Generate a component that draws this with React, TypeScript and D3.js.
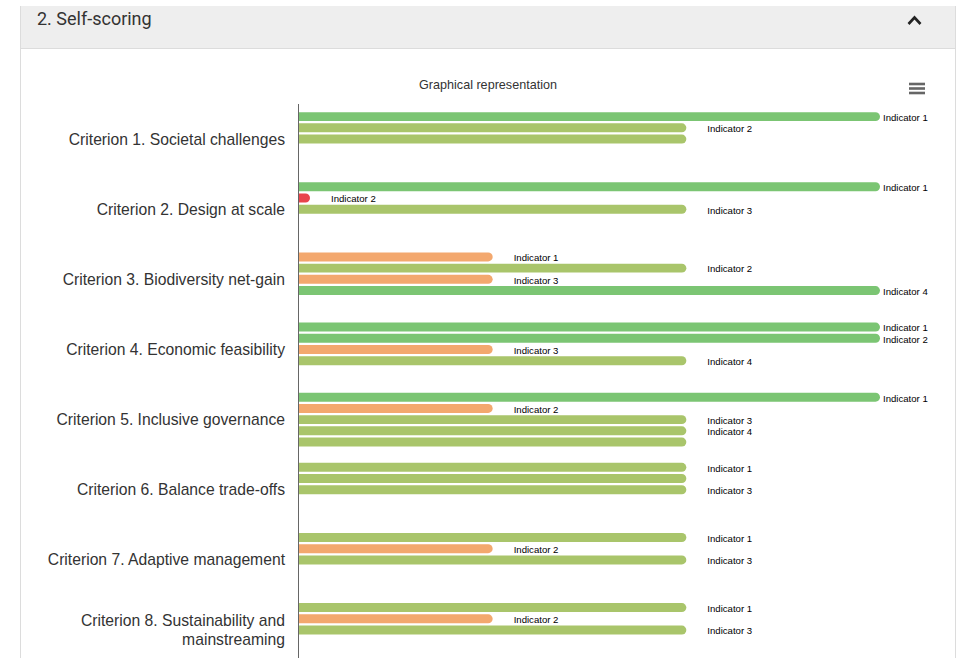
import React, { useEffect, useRef } from 'react';
import * as d3 from 'd3';

const criteria = [
  'Criterion 1. Societal challenges',
  'Criterion 2. Design at scale',
  'Criterion 3. Biodiversity net-gain',
  'Criterion 4. Economic feasibility',
  'Criterion 5. Inclusive governance',
  'Criterion 6. Balance trade-offs',
  'Criterion 7. Adaptive management',
  'Criterion 8. Sustainability and mainstreaming',
];

const indicators = ['Indicator 1', 'Indicator 2', 'Indicator 3', 'Indicator 4', 'Indicator 5'];

// score per criterion, one entry per indicator (null = no indicator)
const scores: (number | null)[][] = [
  [3, 2, 2, null, null],
  [3, 0, 2, null, null],
  [1, 2, 1, 3, null],
  [3, 3, 1, 2, null],
  [3, 1, 2, 2, 2],
  [2, 2, 2, null, null],
  [2, 1, 2, null, null],
  [2, 1, 2, null, null],
];

// data labels the chart dropped because they overlapped
const hiddenLabels = ['0-2', '4-4', '5-1'];

const scoreColors: Record<number, string> = {
  0: '#e8444b',
  1: '#f3a86e',
  2: '#a9c56b',
  3: '#7bc573',
};

const maxScore = 3;
const minBarLength = 11;

const SelfScoringChart: React.FC = () => {
  const svgRef = useRef<SVGSVGElement>(null);

  useEffect(() => {
    if (!svgRef.current) return;
    const svg = d3.select(svgRef.current);
    svg.selectAll('*').remove();

    const width = 963;
    const height = 658;

    // panel
    svg.append('rect').attr('x', 0).attr('y', 0).attr('width', width).attr('height', height).attr('fill', '#fff');
    svg.append('rect')
      .attr('x', 20.5).attr('y', 6).attr('width', 935).attr('height', 42)
      .attr('fill', '#eeeeee');
    svg.append('line').attr('x1', 20.5).attr('x2', 20.5).attr('y1', 6).attr('y2', height).attr('stroke', '#dcdcdc');
    svg.append('line').attr('x1', 955.5).attr('x2', 955.5).attr('y1', 6).attr('y2', height).attr('stroke', '#dcdcdc');
    svg.append('line').attr('x1', 20.5).attr('x2', 955.5).attr('y1', 48.5).attr('y2', 48.5).attr('stroke', '#dcdcdc');

    svg.append('text')
      .attr('x', 37).attr('y', 25)
      .attr('font-family', 'Roboto, sans-serif')
      .style('font-size', '18px')
      .style('fill', '#333')
      .text('2. Self-scoring');

    svg.append('path')
      .attr('d', 'M908.5,24 L914.5,17.5 L920.5,24')
      .attr('fill', 'none')
      .attr('stroke', '#222')
      .attr('stroke-width', 2.6);

    // chart title + menu
    svg.append('text')
      .attr('x', 488).attr('y', 89)
      .attr('text-anchor', 'middle')
      .attr('font-family', '"Liberation Sans", Arial, sans-serif')
      .style('font-size', '12.6px')
      .style('fill', '#333')
      .text('Graphical representation');

    [84, 88.5, 93].forEach(y => {
      svg.append('line')
        .attr('x1', 909).attr('x2', 925).attr('y1', y).attr('y2', y)
        .attr('stroke', '#666').attr('stroke-width', 2.6);
    });

    const plotLeft = 299;
    const plotRight = 880;
    const plotTop = 104;
    const catHeight = 70.14;

    const xScale = d3.scaleLinear().domain([0, maxScore]).range([plotLeft, plotRight]);
    const yScale = d3.scaleBand<number>()
      .domain(d3.range(criteria.length))
      .range([plotTop, plotTop + catHeight * criteria.length]);
    const bw = yScale.bandwidth();
    const slotScale = d3.scaleBand<number>()
      .domain(d3.range(indicators.length))
      .range([bw * 0.1, bw * 0.9]);
    const step = slotScale.bandwidth();
    const barH = step * 0.8;

    // category labels
    const labelG = svg.append('g')
      .attr('font-family', '"Liberation Sans", Arial, Helvetica, sans-serif')
      .style('font-size', '15.7px')
      .style('fill', '#333');

    criteria.forEach((name, ci) => {
      const cy = (yScale(ci) as number) + bw / 2;
      const t = labelG.append('text').attr('text-anchor', 'end');
      const words = name.split(' ');
      const lines: string[] = [];
      let cur = '';
      const probe = labelG.append('text');
      words.forEach(w => {
        const test = cur ? cur + ' ' + w : w;
        probe.text(test);
        if ((probe.node() as SVGTextElement).getComputedTextLength() > 255 && cur) {
          lines.push(cur);
          cur = w;
        } else {
          cur = test;
        }
      });
      lines.push(cur);
      probe.remove();
      const lh = 19;
      lines.forEach((ln, li) => {
        t.append('tspan')
          .attr('x', 285)
          .attr('y', cy + (li - (lines.length - 1) / 2) * lh)
          .attr('dy', '0.35em')
          .text(ln);
      });
    });

    // bars
    const barG = svg.append('g');
    const dataLabelG = svg.append('g')
      .attr('font-family', '"Liberation Sans", Arial, Helvetica, sans-serif')
      .style('font-size', '9.6px')
      .style('fill', '#000');

    scores.forEach((row, ci) => {
      row.forEach((v, si) => {
        if (v === null) return;
        const cy = (yScale(ci) as number) + (slotScale(si) as number) + step / 2;
        const y0 = cy - barH / 2;
        const x0 = xScale(0);
        const x1 = Math.max(xScale(v), x0 + minBarLength);
        const r = barH / 2;
        barG.append('path')
          .attr('d', `M${x0},${y0} H${x1 - r} A${r},${r} 0 0 1 ${x1 - r},${y0 + barH} H${x0} Z`)
          .attr('fill', scoreColors[v]);

        if (hiddenLabels.includes(`${ci}-${si}`)) return;
        const lx = v === maxScore ? x1 + 3 : x1 + 21;
        dataLabelG.append('text')
          .attr('x', lx)
          .attr('y', cy + 1)
          .attr('dy', '0.35em')
          .text(indicators[si]);
      });
    });

    // axis line
    svg.append('line')
      .attr('x1', plotLeft - 0.5).attr('x2', plotLeft - 0.5)
      .attr('y1', plotTop).attr('y2', height)
      .attr('stroke', '#666').attr('stroke-width', 1);
  }, []);

  return <svg ref={svgRef} width={963} height={658} style={{ display: 'block' }} />;
};

export default function App() {
  return (
    <div style={{ position: 'fixed', left: 0, top: 0, width: 963, height: 658, overflow: 'hidden', background: '#fff' }}>
      <SelfScoringChart />
    </div>
  );
}
